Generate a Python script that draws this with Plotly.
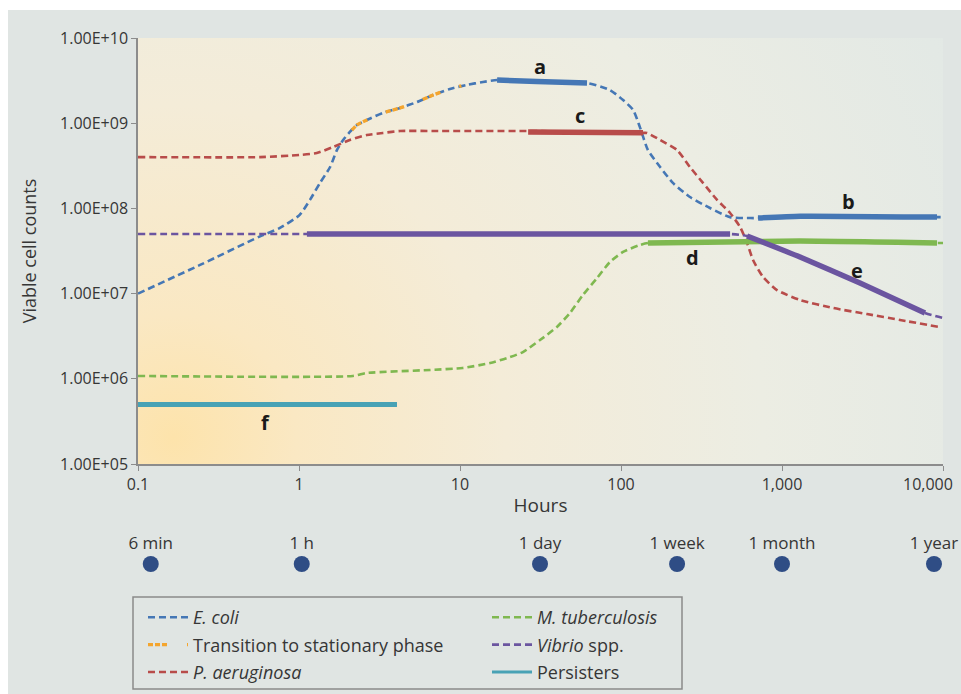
import base64
import math
import plotly.graph_objects as go

# ---------------- data ----------------
ecoli_hours = [0.1, 0.243, 0.573, 0.762, 1.01, 1.17, 1.35, 1.56, 1.72, 1.88, 2.07, 2.29, 2.64, 3.32,
               4.24, 5.40, 6.79, 8.66, 11.0, 13.9, 17.0, 30.0, 61.5, 85.4, 103, 119, 131, 147, 175,
               210, 268, 357, 476, 633, 710, 1300, 9180, 10000]
ecoli_counts = [1.0e7, 2.17e7, 4.7e7, 5.9e7, 8.4e7, 1.26e8, 1.99e8, 3.06e8, 4.84e8, 6.35e8, 7.89e8,
                9.53e8, 1.09e9, 1.32e9, 1.51e9, 1.77e9, 2.14e9, 2.52e9, 2.81e9, 3.05e9, 3.21e9,
                3.08e9, 2.96e9, 2.45e9, 1.87e9, 1.43e9, 9.0e8, 4.84e8, 3.06e8, 1.99e8, 1.36e8,
                1.01e8, 7.9e7, 7.7e7, 7.7e7, 8.1e7, 7.9e7, 7.9e7]

ecoli_a_hours = [17.0, 30.0, 61.5]
ecoli_a_counts = [3.21e9, 3.08e9, 2.96e9]
ecoli_b_hours = [710, 1300, 9180]
ecoli_b_counts = [7.7e7, 8.1e7, 7.9e7]

transition_hours = [2.13, 2.29, 2.64, 3.32, 4.24, 5.40, 6.79, 8.66, 10.2]
transition_counts = [8.3e8, 9.53e8, 1.09e9, 1.32e9, 1.51e9, 1.77e9, 2.14e9, 2.52e9, 2.75e9]

paer_hours = [0.1, 0.573, 1.01, 1.29, 1.63, 2.07, 2.64, 3.32, 4.24, 6.79, 26.1, 137, 145, 175, 223,
              268, 323, 395, 476, 549, 607, 661, 762, 931, 1294, 2075, 3375, 5408, 9580]
paer_counts = [4.0e8, 4.0e8, 4.24e8, 4.47e8, 5.26e8, 6.35e8, 7.27e8, 7.68e8, 8.1e8, 8.1e8, 8.1e8,
               7.7e8, 7.68e8, 6.35e8, 4.84e8, 3.06e8, 1.99e8, 1.26e8, 8.83e7, 6.05e7, 3.93e7,
               2.48e7, 1.57e7, 1.10e7, 8.41e6, 6.78e6, 5.75e6, 4.90e6, 4.05e6]
paer_c_hours = [26.5, 137]
paer_c_counts = [7.9e8, 7.7e8]

mtb_hours = [0.1, 2.16, 2.64, 6.52, 10.4, 15.4, 19.6, 24.6, 31.4, 40.0, 48.2, 58.0, 70.9, 85.4, 103,
             131, 147, 1294, 9180, 10000]
mtb_counts = [1.08e6, 1.08e6, 1.17e6, 1.27e6, 1.34e6, 1.53e6, 1.75e6, 2.06e6, 2.85e6, 4.06e6,
              5.92e6, 9.63e6, 1.52e7, 2.35e7, 3.08e7, 3.72e7, 3.93e7, 4.14e7, 3.93e7, 3.93e7]
mtb_d_hours = [147, 1294, 9180]
mtb_d_counts = [3.93e7, 4.14e7, 3.93e7]

vibrio_hours = [0.1, 1.12, 476, 607, 1294, 3050, 7730, 10000]
vibrio_counts = [5.0e7, 5.0e7, 5.0e7, 4.74e7, 2.69e7, 1.33e7, 5.92e6, 5.17e6]
vibrio_flat_hours = [1.12, 476]
vibrio_flat_counts = [5.0e7, 5.0e7]
vibrio_e_hours = [607, 1294, 3050, 7730]
vibrio_e_counts = [4.74e7, 2.69e7, 1.33e7, 5.92e6]

persister_hours = [0.1, 4.06]
persister_counts = [5.0e5, 5.0e5]

segment_labels = ["a", "b", "c", "d", "e", "f"]
segment_label_hours = [31.4, 2570, 55.6, 280, 2924, 0.615]
segment_label_counts = [4.57e9, 1.22e8, 1.22e9, 2.62e7, 1.89e7, 3.11e5]

x_tick_vals = [0.1, 1, 10, 100, 1000, 10000]
x_tick_text = ["0.1", "1", "10", "100", "1,000", "10,000"]
y_tick_vals = [1e5, 1e6, 1e7, 1e8, 1e9, 1e10]
y_tick_text = ["1.00E+05", "1.00E+06", "1.00E+07", "1.00E+08", "1.00E+09", "1.00E+10"]

timeline_labels = ["6 min", "1 h", "1 day", "1 week", "1 month", "1 year"]
timeline_hours = [0.12, 1.04, 31.4, 223, 1000, 8790]

# ---------------- layout helpers ----------------
W, H = 961, 720          # page shows the top 694 px
ML, MR, MT = 138, 18, 38
PLOT_BOTTOM = 690        # pixel row of paper y = 0
MB = H - PLOT_BOTTOM
PW, PH = W - ML - MR, PLOT_BOTTOM - MT


def px_x(px):
    return (px - ML) / PW


def px_y(py):
    return (PLOT_BOTTOM - py) / PH


FONT = "'Open Sans', Lato, sans-serif"
TXT = "#363636"
BLUE = "#4577b5"
ORANGE = "#f4a52e"
RED = "#b84c4a"
GREEN = "#7fb850"
PURPLE = "#6b55a0"
TEAL = "#48a2b5"
DOT = "#2f4d85"
DASH = "7px,4px"

fig = go.Figure()


def dashed(x, y, color, name, legend, width=2.6, dash=DASH, show=True):
    fig.add_trace(go.Scatter(x=x, y=y, mode="lines", name=name, legend=legend,
                             legendgroup=name, showlegend=show,
                             line=dict(color=color, width=width, dash=dash,
                                       shape="spline", smoothing=0.6),
                             hoverinfo="skip"))


def solid(x, y, color, width=5.5):
    fig.add_trace(go.Scatter(x=x, y=y, mode="lines", showlegend=False,
                             line=dict(color=color, width=width, shape="spline", smoothing=0.5),
                             hoverinfo="skip"))


dashed(ecoli_hours, ecoli_counts, BLUE, "<i>E. coli</i>", "legend")
dashed(transition_hours, transition_counts, ORANGE, "Transition to stationary phase", "legend",
       width=3.4, dash="5px,2px,5px,2px,5px,20px")
dashed(paer_hours, paer_counts, RED, "<i>P. aeruginosa</i>", "legend")
dashed(mtb_hours, mtb_counts, GREEN, "<i>M. tuberculosis</i>", "legend2")
dashed(vibrio_hours, vibrio_counts, PURPLE, "<i>Vibrio</i> spp.", "legend2")
fig.add_trace(go.Scatter(x=persister_hours, y=persister_counts, mode="lines", name="Persisters",
                         legend="legend2", legendgroup="Persisters",
                         line=dict(color=TEAL, width=3), hoverinfo="skip"))

solid(ecoli_a_hours, ecoli_a_counts, BLUE)
solid(ecoli_b_hours, ecoli_b_counts, BLUE)
solid(paer_c_hours, paer_c_counts, RED)
solid(mtb_d_hours, mtb_d_counts, GREEN)
solid(vibrio_flat_hours, vibrio_flat_counts, PURPLE)
solid(vibrio_e_hours, vibrio_e_counts, PURPLE)
solid(persister_hours, persister_counts, TEAL, width=5)

# timeline dots
fig.add_trace(go.Scatter(x=timeline_hours, y=[0] * len(timeline_hours), xaxis="x2", yaxis="y2",
                         mode="markers+text", text=timeline_labels, textposition="top center",
                         cliponaxis=False,
                         textfont=dict(size=17, color=TXT, family=FONT),
                         marker=dict(size=16, color=DOT), showlegend=False, hoverinfo="skip"))

for lab, hx, cy in zip(segment_labels, segment_label_hours, segment_label_counts):
    fig.add_annotation(x=math.log10(hx), y=math.log10(cy), xref="x", yref="y", text="<b>%s</b>" % lab,
                       showarrow=False, font=dict(size=20, color="#1a1a1a", family=FONT))

# last x tick label sits left of its tick (as in the reference) so it stays inside the page
fig.add_annotation(x=math.log10(x_tick_vals[-1]), y=5, xref="x", yref="y", text=x_tick_text[-1],
                   xanchor="right", yanchor="middle", xshift=12, yshift=-20, showarrow=False,
                   font=dict(size=16, color=TXT, family=FONT))

# gradient background for the plot area
svg = ('<svg xmlns="http://www.w3.org/2000/svg" width="805" height="426" viewBox="0 0 805 426" '
       'preserveAspectRatio="none"><defs><radialGradient id="g" gradientUnits="userSpaceOnUse" '
       'cx="35" cy="400" r="950">'
       '<stop offset="0" stop-color="#fde3ab"/>'
       '<stop offset="0.13" stop-color="#fae8c3"/>'
       '<stop offset="0.35" stop-color="#f4ecd8"/>'
       '<stop offset="0.62" stop-color="#ecede3"/>'
       '<stop offset="0.9" stop-color="#e3e9e5"/>'
       '<stop offset="1" stop-color="#e1e7e5"/>'
       '</radialGradient></defs><rect width="805" height="426" fill="url(#g)"/></svg>')
src = "data:image/svg+xml;base64," + base64.b64encode(svg.encode()).decode()
ytop, ybot = px_y(38), px_y(464)
fig.add_layout_image(source=src, xref="paper", yref="paper", x=0, y=ytop, sizex=1, sizey=ytop - ybot,
                     xanchor="left", yanchor="top", sizing="stretch", layer="below")

# white margins outside the grey panel
fig.add_shape(type="rect", xref="paper", yref="paper", x0=-0.3, x1=px_x(8), y0=-0.2, y1=1.2,
              fillcolor="white", line_width=0, layer="below")
fig.add_shape(type="rect", xref="paper", yref="paper", x0=-0.3, x1=1.2, y0=px_y(10), y1=1.2,
              fillcolor="white", line_width=0, layer="below")
# legend box
fig.add_shape(type="rect", xref="paper", yref="paper", x0=px_x(133), x1=px_x(682), y0=px_y(689),
              y1=px_y(597), line=dict(color="#8a8a8a", width=1.5), fillcolor="rgba(0,0,0,0)")

axis_common = dict(showline=True, linecolor="#8c8c8c", linewidth=1.5, ticks="outside", ticklen=5,
                   tickcolor="#8c8c8c", tickwidth=1.2, showgrid=False, zeroline=False,
                   automargin=False, tickfont=dict(size=16, color=TXT, family=FONT))

legend_common = dict(xanchor="left", yanchor="top", bgcolor="rgba(0,0,0,0)",
                     font=dict(size=18, color=TXT, family=FONT), tracegroupgap=1, itemwidth=40)

fig.update_layout(
    width=W, height=H,
    margin=dict(l=ML, r=MR, t=MT, b=MB),
    paper_bgcolor="#e0e5e3", plot_bgcolor="rgba(0,0,0,0)",
    font=dict(family=FONT, color=TXT),
    xaxis=dict(type="log", range=[-1, 4], domain=[0, 1], anchor="y", tickvals=x_tick_vals,
               ticktext=x_tick_text[:-1] + [""],
               title=dict(text="Hours", font=dict(size=19, color=TXT), standoff=5),
               **axis_common),
    yaxis=dict(type="log", range=[5, 10], domain=[ybot, ytop], anchor="x", tickvals=y_tick_vals,
               ticktext=y_tick_text,
               title=dict(text="Viable cell counts", font=dict(size=18, color=TXT), standoff=19),
               **axis_common),
    xaxis2=dict(type="log", range=[-1, 4], domain=[0, 1], anchor="y2", visible=False),
    yaxis2=dict(range=[-1, 1], domain=[px_y(604), px_y(524)], anchor="x2", visible=False),
    legend=dict(x=px_x(143), y=px_y(599), **legend_common),
    legend2=dict(x=px_x(487), y=px_y(599), **legend_common),
)

fig.write_html("out.html", config={"displayModeBar": False},
               post_script="document.body.style.margin='0';document.body.style.overflow='hidden';"
                           "document.documentElement.style.overflow='hidden';")
